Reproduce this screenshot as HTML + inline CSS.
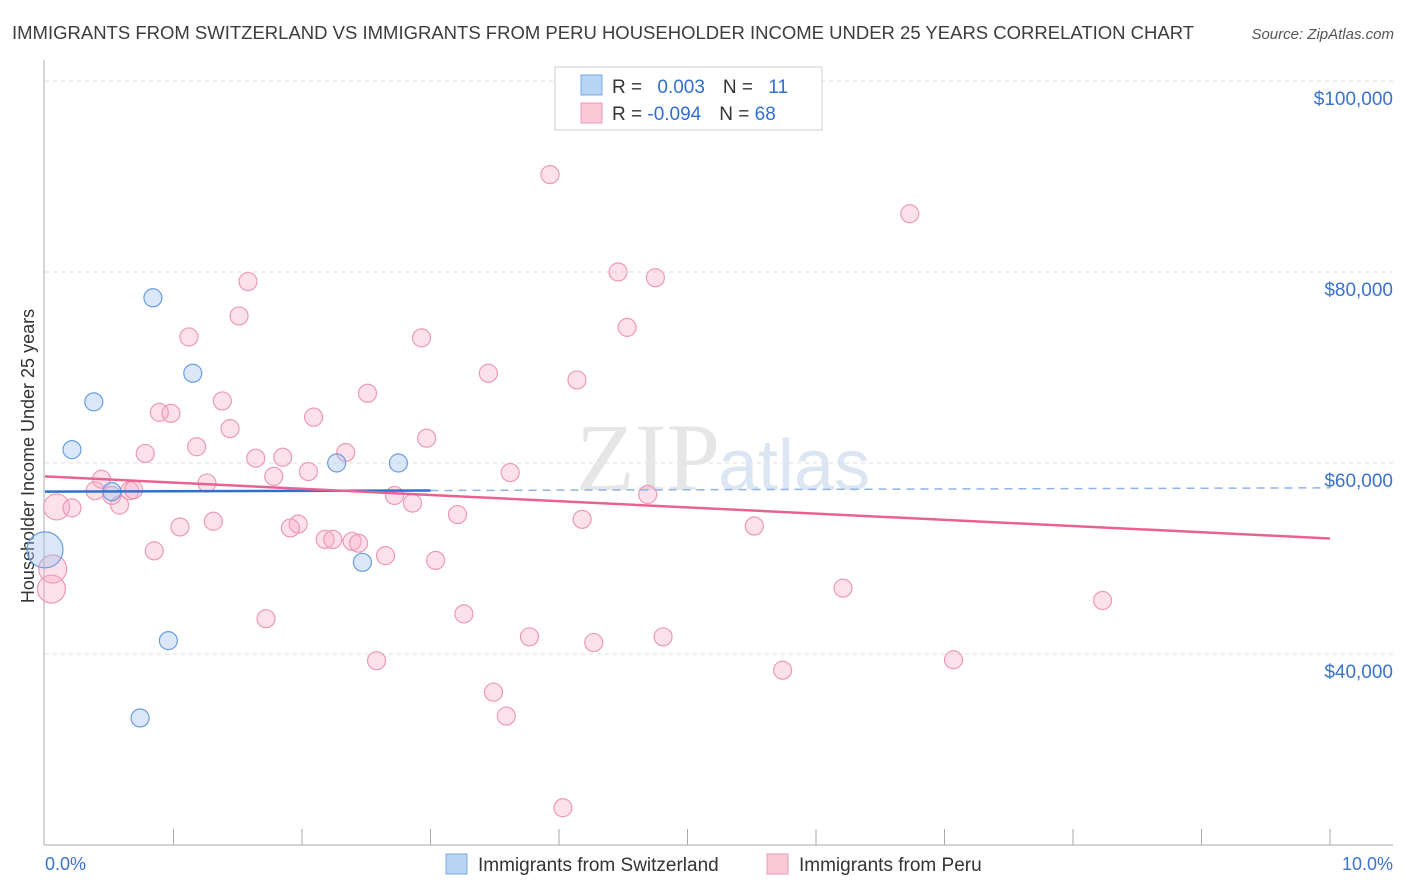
<!DOCTYPE html>
<html><head><meta charset="utf-8"><style>
body{margin:0;background:#fff;font-family:"Liberation Sans",sans-serif;}
svg{display:block}
</style></head><body>
<svg id="c" width="1406" height="892" xmlns="http://www.w3.org/2000/svg">
<text x="12" y="39" font-size="18.5" fill="#3c3c3c">IMMIGRANTS FROM SWITZERLAND VS IMMIGRANTS FROM PERU HOUSEHOLDER INCOME UNDER 25 YEARS CORRELATION CHART</text>
<text x="1394" y="39" font-size="15" fill="#555" font-style="italic" text-anchor="end">Source: ZipAtlas.com</text>
<text x="0" y="0" transform="translate(34,456) rotate(-90)" font-size="18" fill="#333" text-anchor="middle">Householder Income Under 25 years</text>
<g id="grid"></g>
<text x="720" y="490" font-size="96" fill="#e6e6e6" text-anchor="end" font-family="Liberation Serif,serif">ZIP</text>
<text x="718" y="490" font-size="72" fill="#dce6f3">atlas</text>
<g id="pts"></g>
<g id="lines"></g>
<g>
<rect x="555" y="67" width="267" height="63" fill="#fff" stroke="#ccc"/>
<rect x="581" y="75" width="21" height="20" fill="#b8d4f5" stroke="#7aa8e0"/>
<rect x="581" y="103" width="21" height="20" fill="#fcc8d6" stroke="#ee9ab2"/>
<text x="612" y="93" font-size="19" fill="#333">R = <tspan fill="#2f6fd3" dx="10">0.003</tspan><tspan dx="18" fill="#333">N = </tspan><tspan fill="#2f6fd3" dx="10">11</tspan></text>
<text x="612" y="120" font-size="19" fill="#333">R = <tspan fill="#2f6fd3">-0.094</tspan><tspan dx="18" fill="#333">N = </tspan><tspan fill="#2f6fd3">68</tspan></text>
</g>
<text x="45" y="870" font-size="18" fill="#3a72cc">0.0%</text>
<text x="1393" y="870" font-size="18" fill="#3a72cc" text-anchor="end">10.0%</text>
<g>
<rect x="446" y="854" width="21" height="20" fill="#b8d4f5" stroke="#7aa8e0"/>
<text x="478" y="871" font-size="19" fill="#333">Immigrants from Switzerland</text>
<rect x="767" y="854" width="21" height="20" fill="#fcc8d6" stroke="#ee9ab2"/>
<text x="799" y="871" font-size="19" fill="#333">Immigrants from Peru</text>
</g>
</svg>
<script>
const yTicks=[40000,60000,80000,100000];
const yTickLabels=["$40,000","$60,000","$80,000","$100,000"];
const swissX=[0.0,0.84,1.15,0.38,0.21,0.52,2.27,2.75,2.47,0.96,0.74];
const swissY=[50900,77300,69400,66400,61400,57000,60000,60000,49600,41400,33300];
const swissR=[18,9,9,9,9,9,9,9,9,9,9];
const peruX=[3.93,6.73,1.58,4.46,4.75,1.51,1.12,2.93,4.53,3.45,4.14,2.51,1.38,0.89,0.98,2.09,1.44,2.97,1.18,0.78,2.34,1.64,1.85,2.05,3.62,1.78,1.26,0.44,4.69,0.39,0.66,0.52,0.69,2.72,2.86,0.09,0.21,0.58,3.21,4.18,1.31,1.05,5.52,1.97,1.91,2.18,2.24,2.39,2.44,2.65,0.85,3.04,0.06,0.05,6.21,8.23,3.26,1.72,3.77,4.27,4.81,2.58,7.07,5.74,3.49,3.59,4.03];
const peruY=[90200,86100,79000,80000,79400,75400,73200,73100,74200,69400,68700,67300,66500,65300,65200,64800,63600,62600,61700,61000,61100,60500,60600,59100,59000,58600,57900,58300,56700,57100,57100,56600,57200,56600,55800,55400,55300,55600,54600,54100,53900,53300,53400,53600,53200,52000,52000,51800,51600,50300,50800,49800,48900,46800,46900,45600,44200,43700,41800,41200,41800,39300,39400,38300,36000,33500,23900];
const peruR=[9,9,9,9,9,9,9,9,9,9,9,9,9,9,9,9,9,9,9,9,9,9,9,9,9,9,9,9,9,9,9,9,9,9,9,13,9,9,9,9,9,9,9,9,9,9,9,9,9,9,9,9,14,14,9,9,9,9,9,9,9,9,9,9,9,9,9];
const swissTrend=[57000,57400];
const peruTrend=[58600,52100];
const swissSolidEnd=3.0;
const X=v=>45+v*128.5, Y=v=>463-(v-60000)*191/20000;
const NS="http://www.w3.org/2000/svg";
function mk(t,a,p){const e=document.createElementNS(NS,t);for(const k in a)e.setAttribute(k,a[k]);p.appendChild(e);return e;}
const g=document.getElementById('grid');
yTicks.forEach((t,i)=>{
 const l=mk('line',{x1:45,x2:1393,y1:Y(t),y2:Y(t),stroke:'#ddd','stroke-dasharray':'4,4'},g);
 
 
 const tx=mk('text',{x:1393,y:Y(t)+24,'font-size':19,fill:'#3a72cc','text-anchor':'end'},g);
 tx.textContent=yTickLabels[i];
 
 
});
mk('line',{x1:44,x2:44,y1:60,y2:845,stroke:'#aaa'},g);
mk('line',{x1:44,x2:1393,y1:845,y2:845,stroke:'#aaa'},g);
for(let i=1;i<=10;i++){const t=mk('line',{x1:X(i),x2:X(i),y1:829,y2:845,stroke:'#aaa'},g);
 
 }
const p=document.getElementById('pts');
peruX.forEach((x,i)=>{const c=mk('circle',{cx:X(x),cy:Y(peruY[i]),r:peruR[i],fill:'rgba(248,170,195,0.35)',stroke:'#ec9ab3','stroke-width':1.2},p);
 
 });
swissX.forEach((x,i)=>{const c=mk('circle',{cx:X(x),cy:Y(swissY[i]),r:swissR[i],fill:'rgba(160,195,240,0.4)',stroke:'#6a9de0','stroke-width':1.2},p);
 
 });
const L=document.getElementById('lines');
const sy=v=>swissTrend[0]+(swissTrend[1]-swissTrend[0])*v/10;
let a=mk('line',{x1:X(0),y1:Y(sy(0)),x2:X(swissSolidEnd),y2:Y(sy(swissSolidEnd)),stroke:'#2f6fd3','stroke-width':2.5},L);


a=mk('line',{x1:X(swissSolidEnd),y1:Y(sy(swissSolidEnd)),x2:X(10),y2:Y(sy(10)),stroke:'#8fb3e8','stroke-width':1.5,'stroke-dasharray':'8,6'},L);


a=mk('line',{x1:X(0),y1:Y(peruTrend[0]),x2:X(10),y2:Y(peruTrend[1]),stroke:'#e8628f','stroke-width':2.5},L);


</script>
</body></html>
